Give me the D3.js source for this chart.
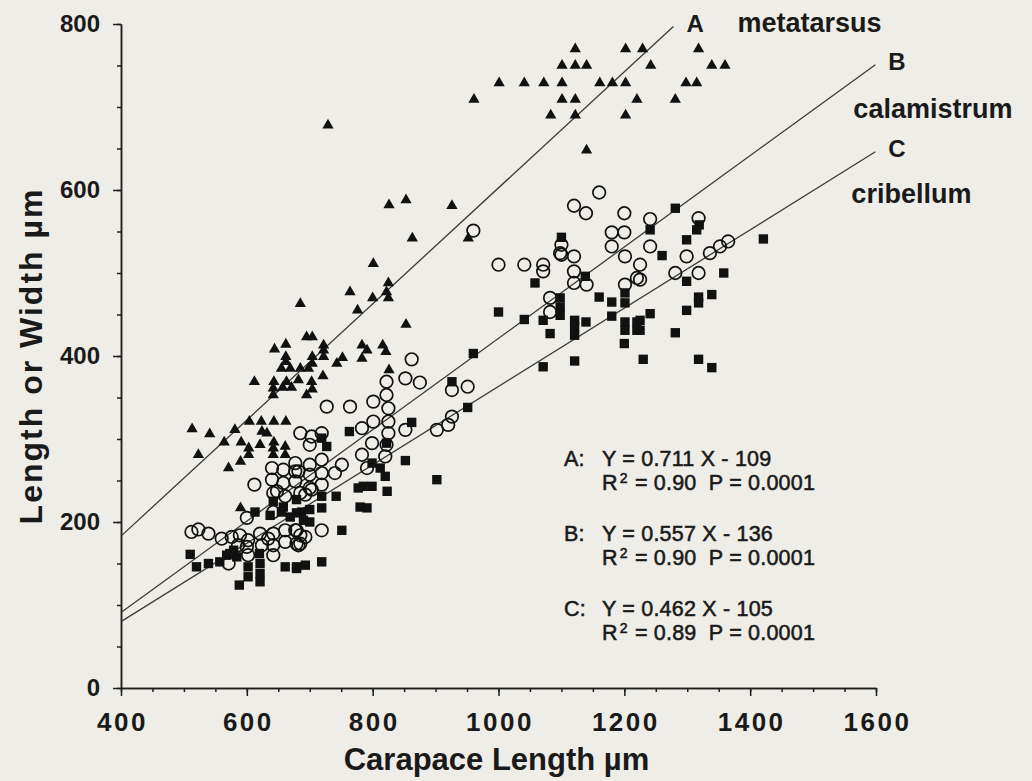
<!DOCTYPE html>
<html>
<head>
<meta charset="utf-8">
<script src="https://cdn.jsdelivr.net/npm/d3@7"></script>
<style>
  body { margin: 0; background: #efede7; }
  svg { display: block; }
  text { font-family: "Liberation Sans", Arial, Helvetica, sans-serif; fill: #1a1a1a; }
  .axis path, .axis line { stroke: #1e1e1e; stroke-width: 1.5; }
  .eq { white-space: pre; font-size: 21.5px; stroke: #1a1a1a; stroke-width: 0.55; letter-spacing: 0.2px; }
</style>
</head>
<body>
<div id="wrapper"></div>
<script>

// metatarsus length (triangles) - [carapace length, length] in µm
const metatarsus = [
    [1122,770],[1202,770],[1229,770],[1318,770],
    [1101,750],[1122,750],[1140,750],[1242,750],[1339,750],[1360,750],
    [1001,729],[1041,729],[1072,729],[1101,729],[1161,729],[1181,729],[1202,729],[1298,729],[1315,729],
    [961,709],[1101,709],[1122,709],[1220,709],[1281,709],
    [1083,690],[1122,690],[1202,690],
    [1140,648],
    [853,588],[926,581],[826,582],[863,542],[952,542],
    [729,678],
    [801,511],[825,488],[822,477],[825,470],[764,477],[800,470],[776,455],[685,463],
    [695,423],[704,423],[644,408],[662,414],[722,413],[722,407],[722,399],[783,413],[791,407],
    [816,413],[821,405],[783,397],[752,398],[743,391],[662,399],[662,393],[655,385],[669,385],
    [685,385],[698,385],[704,399],[704,391],[826,383],[721,376],[612,369],[643,369],[663,369],
    [682,371],[703,369],[642,361],[657,362],[671,362],[642,353],[695,353],[704,360],
    [853,438],
    [604,321],[623,321],[643,321],[662,321],[624,309],[632,307],[581,311],[513,312],[541,306],
    [564,296],[591,296],[621,293],[643,296],[642,289],[642,281],[661,291],[661,281],
    [603,289],[603,281],[523,281],[571,265],[590,273],[590,217]
];

// calamistrum length (open circles)
const calamistrum = [
    [1160,597],[1120,581],[1139,572],[1200,572],[1241,565],[1180,549],[1200,549],[1180,532],
    [1241,532],[960,551],[1100,534],[1100,522],[1120,520],[1201,520],[1299,520],[1318,566],
    [1336,524],[1352,532],[1365,538],[1281,500],[1318,500],[1225,510],[1225,492],[1000,510],
    [1041,510],[1071,510],[1071,502],[1098,524],[1120,502],[1120,488],[1140,486],[1082,470],
    [1082,453],[1220,494],[1201,486],
    [862,396],[852,373],[875,368],[926,359],[951,363],[822,369],[822,353],[825,337],[825,321],
    [825,307],[852,311],[902,311],[920,317],[926,327],[822,293],[801,345],[801,321],[799,295],
    [727,339],[764,339],[783,313],[783,281],[791,265],[751,269],[740,259],[685,307],[703,303],
    [700,293],[719,307],[719,275],[719,259],[719,245],[677,271],[682,261],[700,269],[700,257],
    [700,241],[693,233],[719,190],[679,190],[693,182],[682,172],[612,245],[820,279],
    [512,188],[523,191],[539,186],[560,180],[571,150],[576,182],[589,184],[602,178],[586,172],
    [600,170],[602,160],[621,186],[634,180],[624,172],[642,186],[642,172],[642,160],[661,190],
    [661,176],[677,190],[679,174],[685,184],[685,174],
    [640,265],[658,263],[677,261],[640,251],[658,247],[648,237],[642,212],[677,249],[661,231],
    [600,205],[642,235],[685,235],[703,239]
];

// cribellum width (filled squares)
const cribellum = [
    [1100,543],[1241,552],[1281,578],[1299,540],[1315,552],[1319,558],[1260,521],[1421,541],
    [1299,490],[1358,500],[1318,471],[1318,464],[1339,474],[1299,455],[1241,451],[1281,428],
    [1230,396],[1318,396],[1339,386],[1225,443],[1225,431],[1058,488],[1138,496],[1098,470],
    [1098,459],[1098,449],[1000,453],[1041,444],[1071,443],[1082,427],[1121,443],[1121,435],
    [1121,425],[1139,441],[1160,471],[1180,465],[1180,448],[1201,476],[1201,464],[1201,441],
    [1201,431],[1220,441],[1220,431],[1200,415],[1121,394],[1071,387],
    [960,403],[926,369],[951,338],[862,320],[822,295],[763,309],[852,274],[799,271],[812,265],
    [820,255],[777,241],[799,243],[823,237],[785,243],[902,251],[742,231],[780,218],[791,217],
    [719,231],[719,217],[751,190],[687,212],[700,215],[690,202],[700,200],[679,227],[679,211],
    [679,146],[693,148],[719,152],[719,301],[727,291],
    [510,161],[520,146],[539,150],[557,152],[573,162],[568,160],[579,166],[584,158],[602,146],
    [602,134],[621,150],[621,138],[621,128],[620,162],[588,124],[661,146],[679,144],
    [637,208],[655,212],[669,206],[642,225],[658,218],[613,212]
];

// regression lines: [x0, y0, x1, y1]
const fitLines = [
    [400, 183, 1278, 797],
    [400, 91, 1599, 751],
    [400, 80, 1599, 646]
];
const fitIds = ['A', 'B', 'C'];
const fitNames = ['metatarsus', 'calamistrum', 'cribellum'];
const fitEquations = ['Y = 0.711 X - 109', 'Y = 0.557 X - 136', 'Y = 0.462 X - 105'];
const fitR2 = ['0.90', '0.90', '0.89'];
const fitP = ['0.0001', '0.0001', '0.0001'];

const xTicks = [400, 600, 800, 1000, 1200, 1400, 1600];
const yTicks = [0, 200, 400, 600, 800];

function drawChart() {

    const dimensions = {
        width: 1032,
        height: 781,
        margin: { top: 24, left: 121 }
    };
    const boundedWidth = 755;
    const boundedHeight = 664;

    const wrapper = d3.select('#wrapper').append('svg')
        .attr('width', dimensions.width)
        .attr('height', dimensions.height);

    wrapper.append('rect')
        .attr('width', dimensions.width)
        .attr('height', dimensions.height)
        .attr('fill', '#efede7');

    const bounds = wrapper.append('g')
        .attr('transform', `translate(${dimensions.margin.left}, ${dimensions.margin.top})`);

    const xScale = d3.scaleLinear()
        .domain([400, 1600])
        .range([0, boundedWidth]);

    const yScale = d3.scaleLinear()
        .domain([0, 800])
        .range([boundedHeight, 0]);

    // axes: minor ticks every 50, labelled ticks every 200
    bounds.append('g')
        .attr('class', 'axis')
        .attr('transform', `translate(0, ${boundedHeight})`)
        .call(d3.axisBottom(xScale).tickValues(d3.range(400, 1601, 50)).tickSize(4).tickSizeOuter(0).tickFormat(''));

    const xAxis = bounds.append('g')
        .attr('class', 'axis')
        .attr('transform', `translate(0, ${boundedHeight})`)
        .call(d3.axisBottom(xScale).tickValues(xTicks).tickSize(8).tickSizeOuter(0)
            .tickPadding(17).tickFormat(d3.format('d')));
    xAxis.selectAll('text')
        .attr('font-size', 26)
        .attr('font-weight', 'bold')
        .attr('letter-spacing', 2.5)
        .attr('dx', 1)
        .attr('fill', '#1a1a1a');

    bounds.append('g')
        .attr('class', 'axis')
        .call(d3.axisLeft(yScale).tickValues(d3.range(0, 801, 50)).tickSize(4).tickSizeOuter(0).tickFormat(''));

    const yAxis = bounds.append('g')
        .attr('class', 'axis')
        .call(d3.axisLeft(yScale).tickValues(yTicks).tickSize(8).tickSizeOuter(0).tickPadding(13));
    yAxis.selectAll('text')
        .attr('font-size', 24)
        .attr('font-weight', 'bold')
        .attr('fill', '#1a1a1a');

    // axis titles
    wrapper.append('text')
        .attr('x', dimensions.margin.left + boundedWidth / 2 - 2)
        .attr('y', 770)
        .attr('text-anchor', 'middle')
        .attr('font-size', 31)
        .attr('font-weight', 'bold')
        .text('Carapace Length  µm');

    wrapper.append('text')
        .attr('transform', `translate(42, ${dimensions.margin.top + boundedHeight / 2}) rotate(-90)`)
        .attr('text-anchor', 'middle')
        .attr('font-size', 32)
        .attr('font-weight', 'bold')
        .attr('letter-spacing', 2)
        .text('Length or Width  µm');

    // regression lines
    const lines = bounds.append('g');
    lines.selectAll('line')
        .data(fitLines)
        .join('line')
        .attr('x1', d => xScale(d[0]))
        .attr('y1', d => yScale(d[1]))
        .attr('x2', d => xScale(d[2]))
        .attr('y2', d => yScale(d[3]))
        .attr('stroke', '#3a3a3a')
        .attr('stroke-width', 1.3);

    // line letters and names
    lines.selectAll('text.id')
        .data(fitLines)
        .join('text')
        .attr('class', 'id')
        .attr('x', d => xScale(d[2]) + 13)
        .attr('y', d => yScale(d[3]) + 5)
        .attr('font-size', 24)
        .attr('font-weight', 'bold')
        .text((d, i) => fitIds[i]);

    const nameOffsets = [[64, 0], [-22, 48], [-24, 46]];
    lines.selectAll('text.name')
        .data(fitLines)
        .join('text')
        .attr('class', 'name')
        .attr('x', (d, i) => xScale(d[2]) + nameOffsets[i][0])
        .attr('y', (d, i) => yScale(d[3]) + 5 + nameOffsets[i][1])
        .attr('font-size', 27)
        .attr('font-weight', 'bold')
        .text((d, i) => fitNames[i]);

    // points
    const crib = bounds.append('g');
    crib.selectAll('path')
        .data(cribellum)
        .join('path')
        .attr('transform', d => `translate(${xScale(d[0])}, ${yScale(d[1])})`)
        .attr('d', d3.symbol(d3.symbolSquare, 88))
        .attr('fill', '#111');

    const cal = bounds.append('g');
    cal.selectAll('circle')
        .data(calamistrum)
        .join('circle')
        .attr('cx', d => xScale(d[0]))
        .attr('cy', d => yScale(d[1]))
        .attr('r', 6.3)
        .attr('fill', 'none')
        .attr('stroke', '#111')
        .attr('stroke-width', 1.7);

    const meta = bounds.append('g');
    meta.selectAll('path')
        .data(metatarsus)
        .join('path')
        .attr('transform', d => `translate(${xScale(d[0])}, ${yScale(d[1])})`)
        .attr('d', d3.symbol(d3.symbolTriangle, 55))
        .attr('fill', '#111');

    // equations: one text block per fit
    const eqGroup = wrapper.append('g');
    const eqTop = [466, 541, 616];
    fitIds.forEach((id, i) => {
        const t = eqGroup.append('text')
            .attr('class', 'eq')
            .attr('x', 564)
            .attr('y', eqTop[i]);
        t.append('tspan').text(`${id}:`);
        t.append('tspan').attr('x', 602).text(fitEquations[i]);
        t.append('tspan').attr('x', 602).attr('dy', 24).text('R');
        t.append('tspan').attr('dx', 2).attr('dy', -7).attr('font-size', 14).text('2');
        t.append('tspan').attr('dx', 1).attr('dy', 7).text(` = ${fitR2[i]}  P = ${fitP[i]}`);
    });
}

drawChart();
</script>
</body>
</html>
